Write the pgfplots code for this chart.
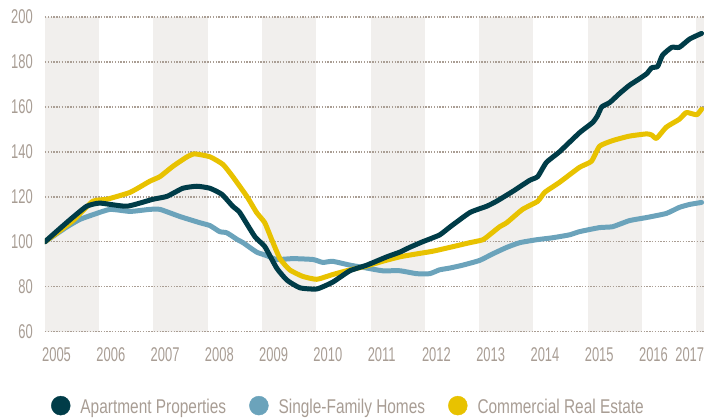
\documentclass[border=0pt]{standalone}
\usepackage{fontspec}
\setmainfont{Liberation Sans}
\newfontfamily\tickfont{Liberation Sans}[FakeStretch=0.65]
\newfontfamily\legfont{Liberation Sans}[FakeStretch=0.775]
\usepackage{pgfplots}
\pgfplotsset{compat=1.18}
\definecolor{apt}{RGB}{0,60,72}
\definecolor{sfh}{RGB}{107,163,187}
\definecolor{cre}{RGB}{232,194,0}
\definecolor{band}{RGB}{241,239,237}
\definecolor{txt}{RGB}{168,157,148}
\definecolor{gridc}{RGB}{170,158,148}
\begin{document}
\begin{tikzpicture}
\begin{axis}[
  at={(0,0)}, anchor=south west,
  scale only axis, width=660bp, height=315bp,
  xmin=2005, xmax=2017.15, ymin=60, ymax=200,
  set layers,
  axis line style={draw=none},
  major tick length=0pt,
  xtick={2005,2006,2007,2008,2009,2010,2011,2012,2013,2014,2015,2016},
  xticklabels={2005,2006,2007,2008,2009,2010,2011,2012,2013,2014,2015,2016},
  extra x ticks={2017.15},
  extra x tick labels={2017},
  extra x tick style={grid=none, xticklabel style={anchor=north east, xshift=3bp}},
  ytick={60,80,100,120,140,160,180,200},
  xticklabel style={anchor=north west, inner sep=0pt, xshift=-3bp, yshift=-16bp},
  yticklabel style={anchor=east, inner sep=0pt, xshift=-12bp},
  ticklabel style={font=\fontsize{20}{24}\selectfont\tickfont, text=txt},
  /pgf/number format/assume math mode=true,
  ymajorgrids,
  grid style={dash pattern=on 1.4bp off 1.4bp, line width=1.4bp, color=gridc},
  legend columns=3,
  legend image code/.code={\fill[#1] (9.5bp,1.5bp) circle (9.5bp);},
  legend style={at={(axis description cs:0.009,-0.235)}, anchor=west,
    draw=none, fill=none, inner sep=0pt,
    font=\fontsize{20}{24}\selectfont\legfont, text=txt,
    nodes={inner sep=0pt},
    /tikz/every odd column/.append style={column sep=10bp},
    /tikz/every even column/.append style={column sep=23bp}},
  series/.style={line width=5bp, line join=round, line cap=round, smooth, tension=0.3},
  bandplot/.style={fill=band, draw=none, forget plot, sharp plot, on layer=axis background},
]
\addlegendimage{color=apt}\addlegendentry{Apartment Properties}
\addlegendimage{color=sfh}\addlegendentry{Single-Family Homes}
\addlegendimage{color=cre}\addlegendentry{Commercial Real Estate}
\addplot[bandplot] coordinates {(2005,60) (2005,200) (2006,200) (2006,60)} -- cycle;
\addplot[bandplot] coordinates {(2007,60) (2007,200) (2008,200) (2008,60)} -- cycle;
\addplot[bandplot] coordinates {(2009,60) (2009,200) (2010,200) (2010,60)} -- cycle;
\addplot[bandplot] coordinates {(2011,60) (2011,200) (2012,200) (2012,60)} -- cycle;
\addplot[bandplot] coordinates {(2013,60) (2013,200) (2014,200) (2014,60)} -- cycle;
\addplot[bandplot] coordinates {(2015,60) (2015,200) (2016,200) (2016,60)} -- cycle;
\addplot[bandplot] coordinates {(2017,60) (2017,200) (2017.15,200) (2017.15,60)} -- cycle;
% Single-Family Homes
\addplot[series, color=sfh, forget plot] coordinates {
(2005.00,100) (2005.41,106.7) (2005.64,109.9) (2005.88,112) (2006.20,114.4)
(2006.57,113.5) (2006.93,114.4) (2007.12,114.4) (2007.49,111.2) (2007.85,108.5)
(2008.04,107.2) (2008.22,104.5) (2008.35,104) (2008.55,100.9) (2008.65,99.6)
(2008.90,95.4) (2009.09,93.8) (2009.27,92.1) (2009.57,92.5) (2009.94,92.1)
(2010.12,90.8) (2010.30,91.3) (2010.62,89.6) (2010.93,88.3) (2011.22,87.1)
(2011.54,87.1) (2011.85,85.8) (2012.09,85.8) (2012.27,87.5) (2012.46,88.3)
(2012.70,89.6) (2013.01,91.7) (2013.25,94.6) (2013.51,97.5) (2013.75,99.6)
(2014.06,100.9) (2014.36,101.8) (2014.67,103.1) (2014.85,104.5) (2015.22,106.3)
(2015.46,106.7) (2015.77,109.4) (2016.09,110.8) (2016.45,112.6) (2016.69,115.3)
(2016.88,116.6) (2017.10,117.5)
};
% Commercial Real Estate
\addplot[series, color=cre, forget plot] coordinates {
(2005.00,100) (2005.52,109.5) (2005.88,118) (2006.14,118.9) (2006.57,122)
(2006.93,126.9) (2007.12,129) (2007.36,133.6) (2007.62,137.8) (2007.76,139.1)
(2008.04,137.8) (2008.28,134.4) (2008.46,129) (2008.72,120.2) (2008.90,113)
(2009.05,108.5) (2009.18,100.9) (2009.33,92.5) (2009.51,87.5) (2009.75,84.6)
(2010.01,83.3) (2010.30,85.4) (2010.62,87.5) (2010.93,89.2) (2011.22,91.3)
(2011.54,93.3) (2011.85,94.6) (2012.15,95.8) (2012.46,97.5) (2012.83,99.6)
(2013.07,100.9) (2013.23,103.8) (2013.38,106.7) (2013.51,108.5) (2013.80,114.4)
(2014.08,118) (2014.21,122) (2014.48,126.4) (2014.85,133.1) (2015.07,135.8)
(2015.22,142.5) (2015.46,145) (2015.77,147) (2016.09,148) (2016.18,147.5)
(2016.27,146) (2016.45,151) (2016.69,154.5) (2016.82,157.5) (2017.01,156.5)
(2017.10,159)
};
% Apartment Properties
\addplot[series, color=apt, forget plot] coordinates {
(2005.00,100) (2005.28,106) (2005.52,111) (2005.77,115.8) (2006.01,117.2)
(2006.51,115.8) (2006.99,118.9) (2007.25,120.2) (2007.54,123.8) (2007.80,124.7)
(2008.04,123.8) (2008.26,121.1) (2008.46,115.8) (2008.59,113) (2008.87,102.2)
(2009.05,97.9) (2009.27,88.3) (2009.46,82.9) (2009.70,79.5) (2010.01,79)
(2010.30,82) (2010.62,87.1) (2010.93,89.6) (2011.30,93.3) (2011.54,95.4)
(2011.72,97.5) (2011.96,100) (2012.27,103) (2012.46,106.5) (2012.83,113)
(2013.14,115.8) (2013.32,118) (2013.62,122.4) (2013.93,127.3) (2014.08,129)
(2014.24,135.3) (2014.48,140) (2014.85,148.5) (2015.09,153) (2015.18,156)
(2015.26,160) (2015.41,162) (2015.59,166) (2015.77,169.6) (2015.96,172.6)
(2016.09,174.8) (2016.18,177.4) (2016.29,178) (2016.38,183) (2016.55,186.5)
(2016.69,186.5) (2016.88,190.2) (2017.10,192.7)
};
\end{axis}
\path (-45bp,-87bp) rectangle (660bp,332bp);
\end{tikzpicture}
\end{document}
